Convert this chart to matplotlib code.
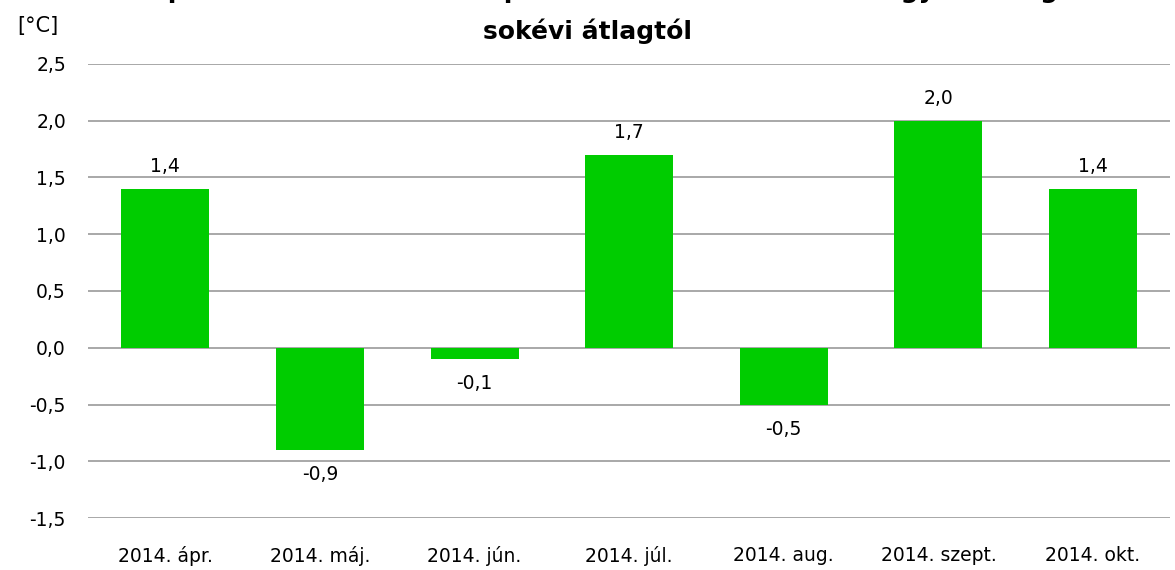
import matplotlib.pyplot as plt
import numpy as np

months = ['2014. ápr.', '2014. máj.', '2014. jún.', '2014. júl.',
          '2014. aug.', '2014. szept.', '2014. okt.']
anomaly = [1.4, -0.9, -0.1, 1.7, -0.5, 2.0, 1.4]
yticks = [-1.5, -1.0, -0.5, 0.0, 0.5, 1.0, 1.5, 2.0, 2.5]

plt.rcParams['font.family'] = ['DejaVu Sans']

fig = plt.figure(figsize=(11.75, 5.7), dpi=100)
ax = fig.add_axes([0.075, 0.091, 0.921, 0.797])

x = np.arange(len(months))
ax.bar(x, anomaly, width=0.57, color='#00cc00', zorder=3)

ax.set_xlim(-0.5, len(months) - 0.5)
ax.set_ylim(-1.5, 2.5)
ax.set_yticks(yticks)
ax.set_yticklabels([f'{v:.1f}'.replace('.', ',') for v in yticks], fontsize=13.5)
ax.set_xticks(x)
ax.set_xticklabels(months, fontsize=13.5)
ax.tick_params(axis='y', length=0, pad=16)
ax.tick_params(axis='x', length=0, pad=20)
ax.grid(axis='y', color='#999999', linewidth=1.2, zorder=0)
for s in ax.spines.values():
    s.set_visible(False)

for xi, v in zip(x, anomaly):
    lbl = f'{v:.1f}'.replace('.', ',')
    if v >= 0:
        ax.annotate(lbl, (xi, v), xytext=(0, 9), textcoords='offset points',
                    ha='center', va='bottom', fontsize=13.5)
    else:
        ax.annotate(lbl, (xi, v), xytext=(0, -11), textcoords='offset points',
                    ha='center', va='top', fontsize=13.5)

# first title line is clipped at the top edge, as in the original
fig.text(0.5, 1.004, 'Az április–október havi középhőmérséklet eltérése a magyarországi',
         ha='center', va='baseline', fontsize=18, fontweight='bold')
fig.text(0.5, 0.945, 'sokévi átlagtól', ha='center', va='center',
         fontsize=18, fontweight='bold')
fig.text(0.015, 0.955, '[°C]', ha='left', va='center', fontsize=15)

fig.savefig('out.png', dpi=100)
